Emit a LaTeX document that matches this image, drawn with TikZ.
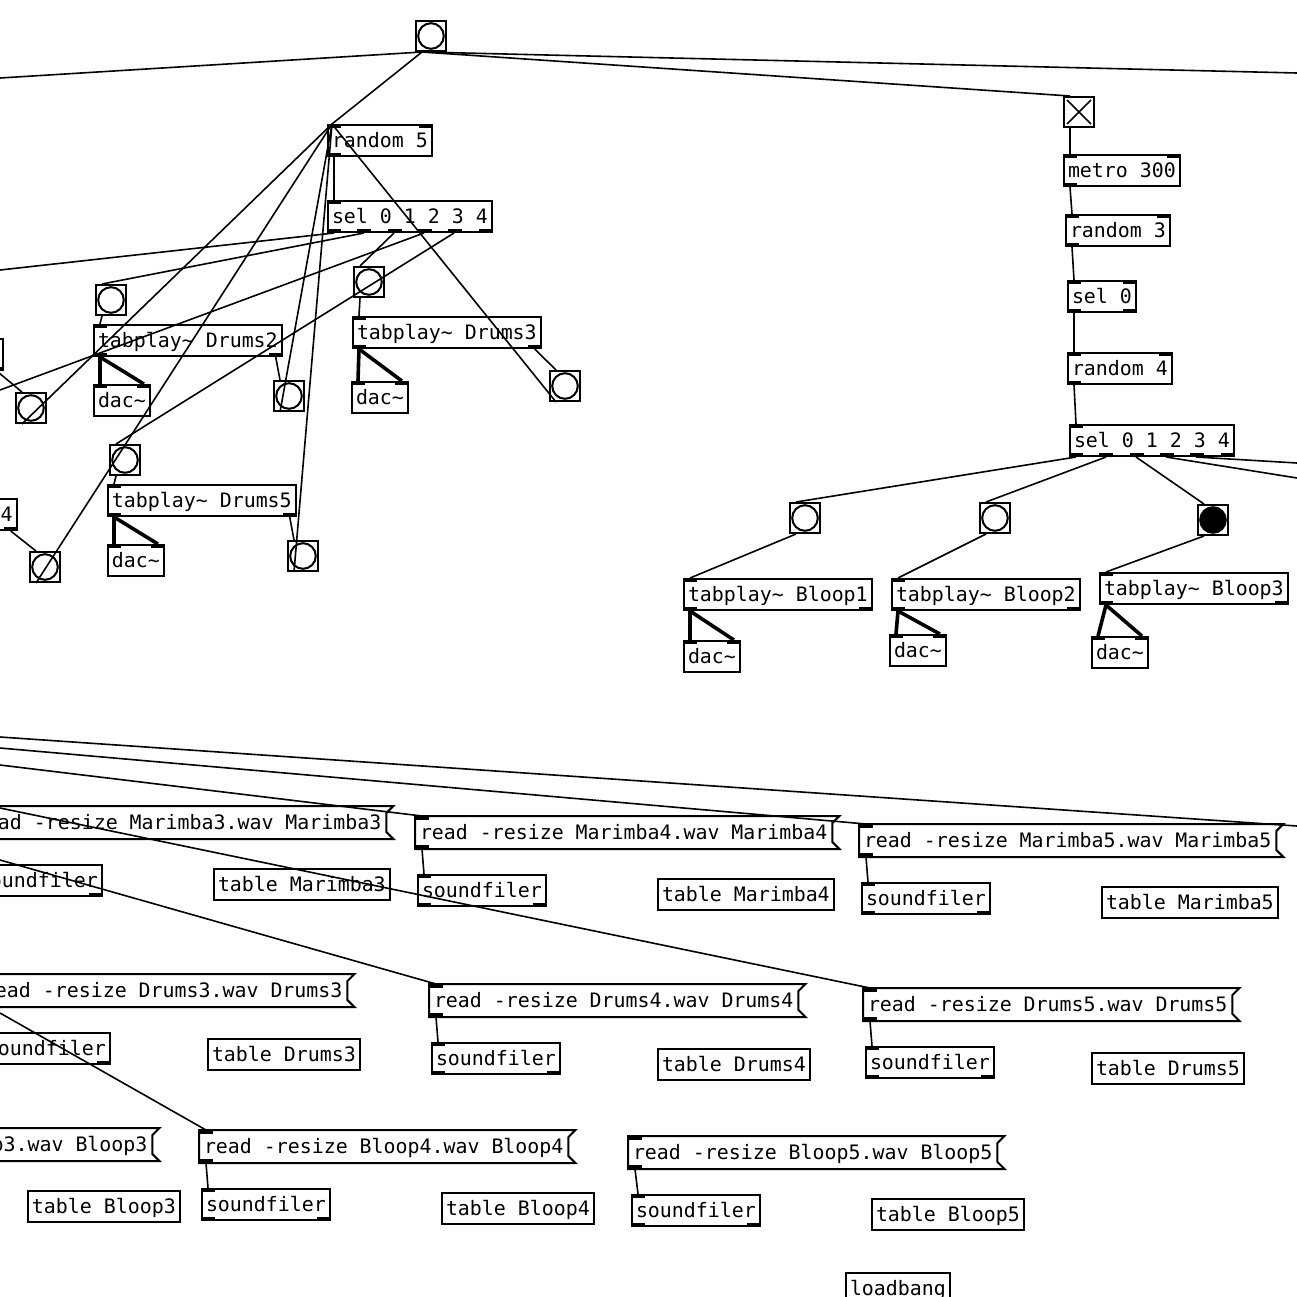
\documentclass[tikz,border=0pt]{standalone}
\usepackage{fontspec}
\newfontfamily\pdfont{DejaVu Sans Mono}
\usetikzlibrary{calc}
\newcommand\tld{\textasciitilde}

\tikzset{
  pd/.style={draw, line width=1pt, anchor=north west, minimum height=15.5pt, inner xsep=2pt, inner ysep=0pt,
    text height=8pt, text depth=1.2pt, font=\pdfont\fontsize{9.95}{12}\selectfont},
  msg/.style={pd, draw=none},
  bng/.style={draw, line width=1pt, anchor=north west, minimum size=15pt, inner sep=0pt,
    path picture={\draw[line width=1pt, fill=#1] (path picture bounding box.center) circle (6.4pt);}},
  bng/.default={white},
  tgl/.style={draw, line width=1pt, anchor=north west, minimum size=15pt, inner sep=0pt,
    path picture={\draw[line width=0.75pt]
      ([shift={(1.5pt,-1.5pt)}]path picture bounding box.north west) -- ([shift={(-1.5pt,1.5pt)}]path picture bounding box.south east)
      ([shift={(-1.5pt,-1.5pt)}]path picture bounding box.north east) -- ([shift={(1.5pt,1.5pt)}]path picture bounding box.south west);}},
  wire/.style={line width=0.8pt},
  sig/.style={line width=1.8pt}
}

\begin{document}
\begin{tikzpicture}[x=0.5pt,y=-0.5pt]
\useasboundingbox (0,0) rectangle (1297,1297);
\fill[white] (0,0) rectangle (1297,1297);
\clip (0,0) rectangle (1297,1297);

\node[bng] (bTop) at (415,20) {};
\node[pd] (r5) at (327,124) {random 5};
\node[pd] (s5) at (327,200) {sel 0 1 2 3 4};
\node[pd] (tD1) at (-186,338) {tabplay\tld{} Drums1};
\node[bng] (eD1) at (15,392) {};
\node[bng] (bD2) at (95,284) {};
\node[pd] (tD2) at (93,324) {tabplay\tld{} Drums2};
\node[pd] (dD2) at (93,384) {dac\tld};
\node[bng] (eD2) at (273,380) {};
\node[bng] (bD3) at (353,266) {};
\node[pd] (tD3) at (352,316) {tabplay\tld{} Drums3};
\node[pd] (dD3) at (351,381) {dac\tld};
\node[bng] (eD3) at (549,370) {};
\node[pd] (tD4) at (-172,498) {tabplay\tld{} Drums4};
\node[bng] (eD4) at (29,551) {};
\node[bng] (bD5) at (109,444) {};
\node[pd] (tD5) at (107,484) {tabplay\tld{} Drums5};
\node[pd] (dD5) at (107,544) {dac\tld};
\node[bng] (eD5) at (287,540) {};

\node[tgl] (tg) at (1063,96) {};
\node[pd] (met) at (1063,154) {metro 300};
\node[pd] (r3) at (1065,214) {random 3};
\node[pd] (s0) at (1067,280) {sel 0};
\node[pd] (r4) at (1067,352) {random 4};
\node[pd] (s4) at (1069,424) {sel 0 1 2 3 4};
\node[bng] (bB1) at (789,502) {};
\node[bng] (bB2) at (979,502) {};
\node[bng=black] (bB3) at (1197,504) {};
\node[pd] (tB1) at (683,578) {tabplay\tld{} Bloop1};
\node[pd] (dB1) at (683,640) {dac\tld};
\node[pd] (tB2) at (891,578) {tabplay\tld{} Bloop2};
\node[pd] (dB2) at (889,634) {dac\tld};
\node[pd] (tB3) at (1099,572) {tabplay\tld{} Bloop3};
\node[pd] (dB3) at (1091,636) {dac\tld};

\node[msg] (mM3) at (-31,806) {read -resize Marimba3.wav Marimba3};
\node[pd] (sM3) at (-27,864) {soundfiler};
\node[pd] (tM3) at (213,868) {table Marimba3};
\node[msg] (mM4) at (415,816) {read -resize Marimba4.wav Marimba4};
\node[pd] (sM4) at (417,874) {soundfiler};
\node[pd] (tM4) at (657,878) {table Marimba4};
\node[msg] (mM5) at (859,824) {read -resize Marimba5.wav Marimba5};
\node[pd] (sM5) at (861,882) {soundfiler};
\node[pd] (tM5) at (1101,886) {table Marimba5};
\node[msg] (mD3) at (-22,974) {read -resize Drums3.wav Drums3};
\node[pd] (sD3) at (-19,1032) {soundfiler};
\node[pd] (tDr3) at (207,1038) {table Drums3};
\node[msg] (mD4) at (429,984) {read -resize Drums4.wav Drums4};
\node[pd] (sD4) at (431,1042) {soundfiler};
\node[pd] (tDr4) at (657,1048) {table Drums4};
\node[msg] (mD5) at (863,988) {read -resize Drums5.wav Drums5};
\node[pd] (sD5) at (865,1046) {soundfiler};
\node[pd] (tDr5) at (1091,1052) {table Drums5};
\node[msg] (mB3) at (-217,1128) {read -resize Bloop3.wav Bloop3};
\node[pd] (tBl3) at (27,1190) {table Bloop3};
\node[msg] (mB4) at (199,1130) {read -resize Bloop4.wav Bloop4};
\node[pd] (sB4) at (201,1188) {soundfiler};
\node[pd] (tBl4) at (441,1192) {table Bloop4};
\node[msg] (mB5) at (628,1136) {read -resize Bloop5.wav Bloop5};
\node[pd] (sB5) at (631,1194) {soundfiler};
\node[pd] (tBl5) at (871,1198) {table Bloop5};
\node[pd] (lb) at (845,1272) {loadbang};

\foreach \m in {mM3,mM4,mM5,mD3,mD4,mD5,mB3,mB4,mB5}
  \draw[line width=1pt] (\m.north west) -- ([xshift=3.5pt]\m.north east) -- ([yshift=-3.5pt]\m.north east)
    -- ([yshift=3.5pt]\m.south east) -- ([xshift=3.5pt]\m.south east) -- (\m.south west) -- cycle;

\foreach \obj/\nin/\nout in {r5/2/1, s5/1/6, tD1/1/2, tD2/1/2, tD3/1/2, tD4/1/2, tD5/1/2, dD2/2/0, dD3/2/0, dD5/2/0,
    met/2/1, r3/2/1, s0/2/2, r4/2/1, s4/1/6, tB1/1/2, tB2/1/2, tB3/1/2, dB1/2/0, dB2/2/0, dB3/2/0,
    mM3/1/1, mM4/1/1, mM5/1/1, mD3/1/1, mD4/1/1, mD5/1/1, mB3/1/1, mB4/1/1, mB5/1/1,
    sM3/1/2, sM4/1/2, sM5/1/2, sD3/1/2, sD4/1/2, sD5/1/2, sB4/1/2, sB5/1/2, lb/0/1} {
  \ifnum\nin>0
    \foreach \k in {1,...,\nin}
      \fill ($(\obj.north west)!{(\k-1)/max(\nin-1,1)}!(\obj.north east)+({-7pt*(\k-1)/max(\nin-1,1)},0)$) rectangle ++(7pt,-2pt);
  \fi
  \ifnum\nout>0
    \foreach \k in {1,...,\nout}
      \fill ($(\obj.south west)!{(\k-1)/max(\nout-1,1)}!(\obj.south east)+({-7pt*(\k-1)/max(\nout-1,1)},0)$) rectangle ++(7pt,2pt);
  \fi
}

\coordinate (lft1) at (0,78);
\coordinate (rgt1) at (1297,73);
\coordinate (lft2) at (0,270);
\coordinate (lft3) at (0,390);
\coordinate (rgt2) at (1297,478);
\coordinate (rgt3) at (1297,463);
\coordinate (lft4) at (0,737);
\coordinate (rgt4) at (1297,826);
\coordinate (lft5) at (0,748);
\coordinate (lft6) at (0,765);
\coordinate (lft7) at (0,808);
\coordinate (lft8) at (0,860);
\coordinate (lft9) at (0,1013);

\draw[wire] ([xshift=3.5pt]bTop.south west) -- (lft1);
\draw[wire] ([xshift=3.5pt]bTop.south west) -- (rgt1);
\draw[wire] ([xshift=3.5pt]bTop.south west) -- ([xshift=3.5pt]tg.north west);
\draw[wire] ([xshift=3.5pt]bTop.south west) -- ([xshift=2.5pt]r5.north west);
\draw[wire] ([xshift=3.5pt]r5.south west) -- ([xshift=3.5pt]s5.north west);
\draw[wire] ([xshift=3.5pt]s5.south west) -- (lft2);
\draw[wire] ([xshift=18.5pt]s5.south west) -- ([xshift=3.5pt]bD2.north west);
\draw[wire] ([xshift=33.5pt]s5.south west) -- ([xshift=3.5pt]bD3.north west);
\draw[wire] ([xshift=48.5pt]s5.south west) -- (lft3);
\draw[wire] ([xshift=63.5pt]s5.south west) -- ([xshift=3.5pt]bD5.north west);
\foreach \b/\t/\d in {bD2/tD2/dD2, bD3/tD3/dD3, bD5/tD5/dD5, bB1/tB1/dB1, bB2/tB2/dB2, bB3/tB3/dB3} {
  \draw[wire] ([xshift=3.5pt]\b.south west) -- ([xshift=3.5pt]\t.north west);
  \draw[sig] ([xshift=3.5pt]\t.south west) -- ([xshift=3.5pt]\d.north west);
  \draw[sig] ([xshift=3.5pt]\t.south west) -- ([xshift=-3.5pt]\d.north east);
}
\foreach \t/\e in {tD1/eD1, tD2/eD2, tD3/eD3, tD4/eD4, tD5/eD5} {
  \draw[wire] ([xshift=-3.5pt]\t.south east) -- ([xshift=3.5pt]\e.north west);
  \draw[wire] ([xshift=3.5pt]\e.south west) -- ([xshift=2.5pt]r5.north west);
}

\draw[wire] ([xshift=3.5pt]tg.south west) -- ([xshift=3.5pt]met.north west);
\draw[wire] ([xshift=3.5pt]met.south west) -- ([xshift=3.5pt]r3.north west);
\draw[wire] ([xshift=3.5pt]r3.south west) -- ([xshift=3.5pt]s0.north west);
\draw[wire] ([xshift=3.5pt]s0.south west) -- ([xshift=3.5pt]r4.north west);
\draw[wire] ([xshift=3.5pt]r4.south west) -- ([xshift=3.5pt]s4.north west);
\draw[wire] ([xshift=3.5pt]s4.south west) -- ([xshift=3.5pt]bB1.north west);
\draw[wire] ([xshift=18.5pt]s4.south west) -- ([xshift=3.5pt]bB2.north west);
\draw[wire] ([xshift=33.5pt]s4.south west) -- ([xshift=3.5pt]bB3.north west);
\draw[wire] ([xshift=48.5pt]s4.south west) -- (rgt2);
\draw[wire] ([xshift=63.5pt]s4.south west) -- (rgt3);

\draw[wire] (lft4) -- (rgt4);
\draw[wire] (lft5) -- ([xshift=3.5pt]mM5.north west);
\draw[wire] (lft6) -- ([xshift=3.5pt]mM4.north west);
\draw[wire] (lft7) -- ([xshift=3.5pt]mD5.north west);
\draw[wire] (lft8) -- ([xshift=3.5pt]mD4.north west);
\draw[wire] (lft9) -- ([xshift=3.5pt]mB4.north west);
\foreach \m/\s in {mM4/sM4, mM5/sM5, mD4/sD4, mD5/sD5, mB4/sB4, mB5/sB5}
  \draw[wire] ([xshift=3.5pt]\m.south west) -- ([xshift=3.5pt]\s.north west);
\end{tikzpicture}
\end{document}
